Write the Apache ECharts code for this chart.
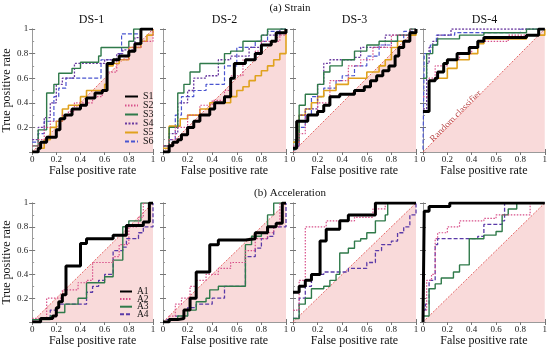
<!DOCTYPE html>
<html><head><meta charset="utf-8">
<script src="https://cdn.jsdelivr.net/npm/echarts@6/dist/echarts.min.js"></script>
<style>html,body{margin:0;padding:0;background:#fff}#c{width:550px;height:350px}</style>
</head><body><div id="c"></div>
<script>
// ---------- data ----------
const panelTitles = ['DS-1', 'DS-2', 'DS-3', 'DS-4'];
const strainNames = ['S1', 'S2', 'S3', 'S4', 'S5', 'S6'];
const accelNames = ['A1', 'A2', 'A3', 'A4'];
const diagonal = [[0, 0], [1, 1]];

// Strain, DS-1 ... DS-4 : [FPR, TPR] step corners
const s_ds1_S1 = [[0,0],[0.05,0.03],[0.07,0.08],[0.12,0.12],[0.2,0.18],[0.23,0.27],[0.27,0.3],[0.33,0.35],[0.4,0.38],[0.45,0.44],[0.52,0.48],[0.58,0.5],[0.62,0.72],[0.67,0.75],[0.72,0.78],[0.8,0.82],[0.85,0.88],[0.9,1],[1,1]];
const s_ds1_S2 = [[0,0.05],[0.05,0.1],[0.1,0.2],[0.15,0.25],[0.25,0.3],[0.3,0.33],[0.35,0.4],[0.5,0.45],[0.58,0.5],[0.62,0.65],[0.7,0.75],[0.8,0.85],[0.9,0.9],[1,1]];
const s_ds1_S3 = [[0,0.05],[0.05,0.18],[0.12,0.48],[0.18,0.55],[0.22,0.64],[0.33,0.68],[0.4,0.73],[0.55,0.78],[0.57,0.85],[0.75,0.85],[0.8,0.9],[0.84,1],[1,1]];
const s_ds1_S4 = [[0,0.1],[0.05,0.2],[0.1,0.28],[0.15,0.4],[0.2,0.55],[0.25,0.6],[0.35,0.72],[0.55,0.72],[0.6,0.75],[0.7,0.8],[0.75,0.83],[0.85,0.93],[0.9,1],[1,1]];
const s_ds1_S5 = [[0,0],[0.05,0.03],[0.1,0.1],[0.15,0.2],[0.2,0.25],[0.25,0.35],[0.3,0.38],[0.4,0.45],[0.45,0.5],[0.55,0.5],[0.6,0.55],[0.62,0.7],[0.67,0.72],[0.72,0.75],[0.8,0.85],[0.9,0.9],[0.95,0.95],[1,1]];
const s_ds1_S6 = [[0,0.08],[0.05,0.15],[0.1,0.25],[0.18,0.45],[0.22,0.52],[0.28,0.6],[0.55,0.6],[0.57,0.75],[0.72,0.8],[0.74,0.96],[0.88,0.96],[0.9,1],[1,1]];

const s_ds2_S1 = [[0,0],[0.05,0.05],[0.08,0.08],[0.12,0.1],[0.15,0.14],[0.2,0.2],[0.25,0.25],[0.3,0.3],[0.38,0.35],[0.42,0.4],[0.5,0.45],[0.55,0.6],[0.58,0.72],[0.67,0.75],[0.75,0.8],[0.8,0.87],[0.88,0.9],[0.92,0.97],[1,1]];
const s_ds2_S2 = [[0,0.05],[0.05,0.1],[0.1,0.2],[0.2,0.3],[0.3,0.38],[0.4,0.42],[0.5,0.5],[0.55,0.62],[0.65,0.75],[0.75,0.82],[0.8,0.9],[0.95,0.95],[1,1]];
const s_ds2_S3 = [[0,0.05],[0.05,0.2],[0.12,0.48],[0.17,0.55],[0.22,0.65],[0.3,0.72],[0.47,0.72],[0.5,0.8],[0.55,0.82],[0.65,0.9],[0.8,0.95],[0.85,1],[1,1]];
const s_ds2_S4 = [[0,0.05],[0.05,0.15],[0.12,0.4],[0.2,0.5],[0.25,0.6],[0.35,0.62],[0.45,0.75],[0.55,0.78],[0.7,0.85],[0.8,0.95],[0.95,1],[1,1]];
const s_ds2_S5 = [[0,0.03],[0.05,0.21],[0.14,0.27],[0.2,0.3],[0.3,0.35],[0.38,0.4],[0.55,0.45],[0.6,0.5],[0.65,0.53],[0.7,0.58],[0.75,0.62],[0.8,0.66],[0.85,0.7],[0.9,0.75],[0.95,0.8],[1,1]];
const s_ds2_S6 = [[0,0.05],[0.05,0.1],[0.1,0.3],[0.15,0.45],[0.25,0.5],[0.35,0.55],[0.5,0.7],[0.6,0.85],[0.75,0.9],[0.85,0.98],[0.95,1],[1,1]];

const s_ds3_S1 = [[0,0.03],[0.03,0.25],[0.12,0.3],[0.2,0.33],[0.25,0.38],[0.3,0.45],[0.38,0.47],[0.5,0.5],[0.58,0.53],[0.63,0.58],[0.68,0.62],[0.73,0.66],[0.78,0.7],[0.83,0.78],[0.86,0.85],[0.9,0.9],[0.95,0.97],[1,1]];
const s_ds3_S2 = [[0,0.05],[0.05,0.15],[0.1,0.3],[0.2,0.4],[0.3,0.58],[0.45,0.7],[0.55,0.75],[0.65,0.85],[0.8,0.95],[0.95,1],[1,1]];
const s_ds3_S3 = [[0,0.02],[0.02,0.1],[0.05,0.38],[0.1,0.47],[0.2,0.55],[0.25,0.65],[0.3,0.7],[0.4,0.75],[0.5,0.82],[0.6,0.87],[0.7,0.9],[0.85,0.95],[0.95,1],[1,1]];
const s_ds3_S4 = [[0,0.02],[0.02,0.05],[0.05,0.3],[0.1,0.35],[0.2,0.55],[0.25,0.72],[0.3,0.75],[0.5,0.77],[0.55,0.85],[0.75,0.95],[0.95,1],[1,1]];
const s_ds3_S5 = [[0,0.08],[0.05,0.3],[0.1,0.35],[0.15,0.4],[0.2,0.45],[0.25,0.5],[0.35,0.55],[0.45,0.6],[0.6,0.65],[0.7,0.7],[0.75,0.75],[0.8,0.85],[0.85,0.9],[0.95,0.95],[1,1]];
const s_ds3_S6 = [[0,0.02],[0.02,0.05],[0.05,0.2],[0.1,0.3],[0.15,0.45],[0.25,0.52],[0.35,0.58],[0.4,0.62],[0.5,0.7],[0.6,0.78],[0.7,0.87],[0.8,0.9],[0.9,0.98],[1,1]];

const s_ds4_S1 = [[0,0.33],[0.05,0.58],[0.1,0.6],[0.12,0.65],[0.17,0.72],[0.2,0.75],[0.28,0.8],[0.38,0.85],[0.45,0.9],[0.5,0.93],[0.85,0.95],[0.95,1],[1,1]];
const s_ds4_S2 = [[0,0.45],[0.05,0.6],[0.1,0.7],[0.2,0.75],[0.3,0.8],[0.4,0.85],[0.45,0.9],[0.7,0.95],[0.95,1],[1,1]];
const s_ds4_S3 = [[0,0.6],[0.03,0.8],[0.08,0.87],[0.12,0.92],[0.3,0.95],[0.5,0.97],[0.85,1],[1,1]];
const s_ds4_S4 = [[0,0.35],[0.03,0.72],[0.05,0.85],[0.08,0.9],[0.12,0.95],[0.23,1],[1,1]];
const s_ds4_S5 = [[0,0.33],[0.05,0.58],[0.1,0.6],[0.2,0.68],[0.28,0.75],[0.38,0.8],[0.45,0.88],[0.5,0.92],[0.85,0.95],[1,1]];
const s_ds4_S6 = [[0,0.02],[0.01,0.8],[0.06,0.87],[0.11,0.95],[0.26,0.97],[0.8,1],[1,1]];

// Acceleration, DS-1 ... DS-4
const a_ds1_A1 = [[0,0],[0.07,0.03],[0.17,0.05],[0.2,0.12],[0.22,0.17],[0.25,0.23],[0.28,0.47],[0.4,0.66],[0.45,0.7],[0.67,0.73],[0.78,0.81],[0.92,0.84],[0.97,1],[1,1]];
const a_ds1_A2 = [[0,0.03],[0.12,0.2],[0.2,0.2],[0.25,0.27],[0.35,0.27],[0.38,0.33],[0.45,0.35],[0.5,0.5],[0.67,0.55],[0.72,0.65],[0.8,0.8],[0.88,0.88],[0.92,1],[1,1]];
const a_ds1_A3 = [[0,0.02],[0.15,0.05],[0.2,0.08],[0.27,0.15],[0.35,0.15],[0.38,0.2],[0.45,0.33],[0.55,0.33],[0.6,0.38],[0.67,0.52],[0.75,0.8],[0.8,0.85],[0.9,1],[1,1]];
const a_ds1_A4 = [[0,0.02],[0.07,0.03],[0.15,0.1],[0.22,0.15],[0.3,0.15],[0.45,0.25],[0.5,0.3],[0.55,0.35],[0.6,0.4],[0.67,0.6],[0.75,0.63],[0.78,0.7],[0.88,0.75],[0.92,0.8],[1,0.8],[1,1]];

const a_ds2_A1 = [[0,0],[0.05,0.02],[0.12,0.03],[0.17,0.1],[0.22,0.2],[0.27,0.42],[0.38,0.65],[0.45,0.69],[0.67,0.7],[0.75,0.75],[0.85,0.8],[0.92,0.83],[0.97,1],[1,1]];
const a_ds2_A2 = [[0,0],[0.05,0.05],[0.1,0.15],[0.15,0.2],[0.22,0.3],[0.27,0.35],[0.35,0.4],[0.45,0.45],[0.55,0.5],[0.67,0.6],[0.75,0.7],[0.85,0.75],[0.9,0.8],[0.95,1],[1,1]];
const a_ds2_A3 = [[0,0],[0.05,0.02],[0.12,0.05],[0.2,0.1],[0.27,0.17],[0.35,0.2],[0.38,0.27],[0.45,0.3],[0.65,0.3],[0.67,0.65],[0.72,0.72],[0.8,0.75],[0.85,0.9],[0.9,1],[1,1]];
const a_ds2_A4 = [[0,0],[0.03,0.02],[0.1,0.05],[0.2,0.12],[0.27,0.15],[0.4,0.2],[0.5,0.3],[0.65,0.3],[0.67,0.55],[0.75,0.62],[0.8,0.7],[0.85,0.72],[0.9,0.8],[1,0.8],[1,1]];

const a_ds3_A1 = [[0,0.25],[0.05,0.3],[0.1,0.35],[0.15,0.4],[0.22,0.68],[0.27,0.78],[0.38,0.85],[0.45,0.9],[0.67,1],[1,1]];
const a_ds3_A2 = [[0,0.1],[0.05,0.35],[0.1,0.8],[0.22,0.8],[0.27,0.85],[0.5,0.88],[0.65,0.95],[0.75,1],[1,1]];
const a_ds3_A3 = [[0,0.03],[0.05,0.15],[0.1,0.2],[0.15,0.28],[0.25,0.3],[0.3,0.35],[0.35,0.4],[0.38,0.58],[0.45,0.62],[0.5,0.68],[0.55,0.7],[0.6,0.75],[0.67,0.85],[0.75,0.9],[0.77,1],[1,1]];
const a_ds3_A4 = [[0,0.03],[0.05,0.2],[0.1,0.3],[0.15,0.4],[0.25,0.42],[0.45,0.45],[0.6,0.5],[0.67,0.6],[0.72,0.65],[0.8,0.68],[0.85,0.75],[0.9,0.8],[0.95,0.9],[1,1]];

const a_ds4_A1 = [[0,0],[0.01,0.93],[0.05,0.97],[0.22,1],[1,1]];
const a_ds4_A2 = [[0,0.1],[0.03,0.35],[0.07,0.4],[0.1,0.7],[0.12,0.75],[0.2,0.8],[0.3,0.85],[0.5,0.87],[0.6,0.9],[0.88,1],[1,1]];
const a_ds4_A3 = [[0,0.05],[0.05,0.28],[0.1,0.32],[0.15,0.37],[0.25,0.42],[0.3,0.48],[0.38,0.7],[0.5,0.73],[0.6,0.76],[0.65,0.9],[0.7,0.95],[0.77,1],[1,1]];
const a_ds4_A4 = [[0,0.1],[0.02,0.15],[0.05,0.35],[0.1,0.65],[0.12,0.7],[0.45,0.72],[0.5,0.82],[0.65,0.85],[0.67,1],[1,1]];

const strainCurves = [
  [s_ds1_S1, s_ds1_S2, s_ds1_S3, s_ds1_S4, s_ds1_S5, s_ds1_S6],
  [s_ds2_S1, s_ds2_S2, s_ds2_S3, s_ds2_S4, s_ds2_S5, s_ds2_S6],
  [s_ds3_S1, s_ds3_S2, s_ds3_S3, s_ds3_S4, s_ds3_S5, s_ds3_S6],
  [s_ds4_S1, s_ds4_S2, s_ds4_S3, s_ds4_S4, s_ds4_S5, s_ds4_S6]
];
const accelCurves = [
  [a_ds1_A1, a_ds1_A2, a_ds1_A3, a_ds1_A4],
  [a_ds2_A1, a_ds2_A2, a_ds2_A3, a_ds2_A4],
  [a_ds3_A1, a_ds3_A2, a_ds3_A3, a_ds3_A4],
  [a_ds4_A1, a_ds4_A2, a_ds4_A3, a_ds4_A4]
];

// ---------- styles ----------
const FONT = 'Liberation Serif, DejaVu Serif, serif';
const strainStyles = [
  {color: '#000000', width: 3, type: 'solid'},
  {color: '#d8508a', width: 1.2, type: [1.5, 1.5]},
  {color: '#2f7a4a', width: 1.4, type: 'solid'},
  {color: '#6a3aa0', width: 1.3, type: [2, 1.5]},
  {color: '#e0a21e', width: 1.6, type: 'solid'},
  {color: '#4a55d0', width: 1.2, type: [4, 2]}
];
const accelStyles = [
  {color: '#000000', width: 3, type: 'solid'},
  {color: '#d8508a', width: 1.2, type: [1.5, 1.5]},
  {color: '#2f7a4a', width: 1.4, type: 'solid'},
  {color: '#5a3aa8', width: 1.3, type: [4, 2]}
];

const lefts = [30, 163, 293, 423];
const W = 123;
const rows = [{top: 29, height: 123}, {top: 203, height: 119}];

const grids = [], xAxes = [], yAxes = [], series = [];
const fmt = v => (v === 0 ? '0' : v === 1 ? '1' : v.toFixed(1));
const axisLine = {show: true, lineStyle: {color: '#9a9a9a', width: 1}};
const tick = {show: true, inside: true, length: 3, lineStyle: {color: '#777'}};
const minor = {show: true, splitNumber: 2, length: 2, lineStyle: {color: '#999'}};

for (let r = 0; r < 2; r++) {
  for (let c = 0; c < 4; c++) {
    const g = grids.length;
    grids.push({left: lefts[c], top: rows[r].top, width: W, height: rows[r].height, show: false});
    xAxes.push({
      gridIndex: g, type: 'value', min: 0, max: 1, interval: 0.2, position: 'bottom',
      axisLine, axisTick: tick, minorTick: minor, splitLine: {show: false},
      axisLabel: {formatter: fmt, fontFamily: FONT, fontSize: 9, color: '#222', margin: 3},
      name: 'False positive rate', nameLocation: 'middle', nameGap: 13,
      nameTextStyle: {fontFamily: FONT, fontSize: 12, color: '#111'}
    });
    xAxes.push({
      gridIndex: g, type: 'value', min: 0, max: 1, interval: 0.2, position: 'top',
      axisLine, axisTick: tick, minorTick: {show: false}, splitLine: {show: false}, axisLabel: {show: false}
    });
    yAxes.push({
      gridIndex: g, type: 'value', min: 0, max: 1, interval: 0.2, position: 'left',
      axisLine, axisTick: tick, minorTick: minor, splitLine: {show: false},
      axisLabel: {show: c === 0, formatter: fmt, showMinLabel: false, fontFamily: FONT, fontSize: 9, color: '#222', margin: 4},
      name: c === 0 ? 'True positive rate' : '', nameLocation: 'middle', nameGap: 13,
      nameTextStyle: {fontFamily: FONT, fontSize: 12, color: '#111'}
    });
    yAxes.push({
      gridIndex: g, type: 'value', min: 0, max: 1, interval: 0.2, position: 'right',
      axisLine, axisTick: tick, minorTick: {show: false}, splitLine: {show: false}, axisLabel: {show: false}
    });
    // random classifier region
    series.push({
      type: 'line', xAxisIndex: 2 * g, yAxisIndex: 2 * g, data: diagonal, symbol: 'none', silent: true,
      lineStyle: {color: '#e04848', width: 0.8, type: [2, 1.5]},
      areaStyle: {color: '#f9dada', opacity: 1}, z: 1
    });
    const names = r === 0 ? strainNames : accelNames;
    const curves = r === 0 ? strainCurves[c] : accelCurves[c];
    const styles = r === 0 ? strainStyles : accelStyles;
    for (let k = names.length - 1; k >= 0; k--) {
      series.push({
        name: names[k], type: 'line', step: 'end', xAxisIndex: 2 * g, yAxisIndex: 2 * g,
        data: curves[k], symbol: 'none', lineStyle: styles[k], itemStyle: {color: styles[k].color},
        z: 3 + (names.length - k)
      });
    }
  }
}

// one legend component per entry, stacked inside the first panel of each row
const legends = [];
strainNames.forEach((n, i) => legends.push({
  data: [n], left: 124, top: 91.5 + i * 9, itemWidth: 13, itemHeight: 7, itemGap: 0, padding: 0,
  itemStyle: {opacity: 0},
  textStyle: {fontFamily: FONT, fontSize: 10, color: '#111'}, selectedMode: false
}));
accelNames.forEach((n, i) => legends.push({
  data: [n], left: 119, top: 286.5 + i * 7.6, itemWidth: 12, itemHeight: 6, itemGap: 0, padding: 0,
  itemStyle: {opacity: 0},
  textStyle: {fontFamily: FONT, fontSize: 9.5, color: '#111'}, selectedMode: false
}));

const chart = echarts.init(document.getElementById('c'), null, {renderer: 'canvas'});
const txt = (x, y, text, size) => ({
  type: 'text', x, y, style: {text, fontFamily: FONT, fontSize: size, fill: '#111', align: 'center', verticalAlign: 'middle'}
});

chart.setOption({
  animation: false,
  grid: grids, xAxis: xAxes, yAxis: yAxes, series,
  legend: legends
});

const p = chart.convertToPixel({gridIndex: 3}, [0.27, 0.29]);
chart.setOption({
  graphic: [
    txt(290, 8, '(a) Strain', 11),
    txt(290, 193, '(b) Acceleration', 11),
    ...panelTitles.map((t, i) => txt(lefts[i] + W / 2, 20, t, 12)),
    {type: 'text', x: p[0], y: p[1], rotation: Math.PI / 4,
     style: {text: 'Random classifier', fontFamily: FONT, fontSize: 9.5, fill: '#b84a4a', align: 'center', verticalAlign: 'middle'}}
  ]
});
</script></body></html>
